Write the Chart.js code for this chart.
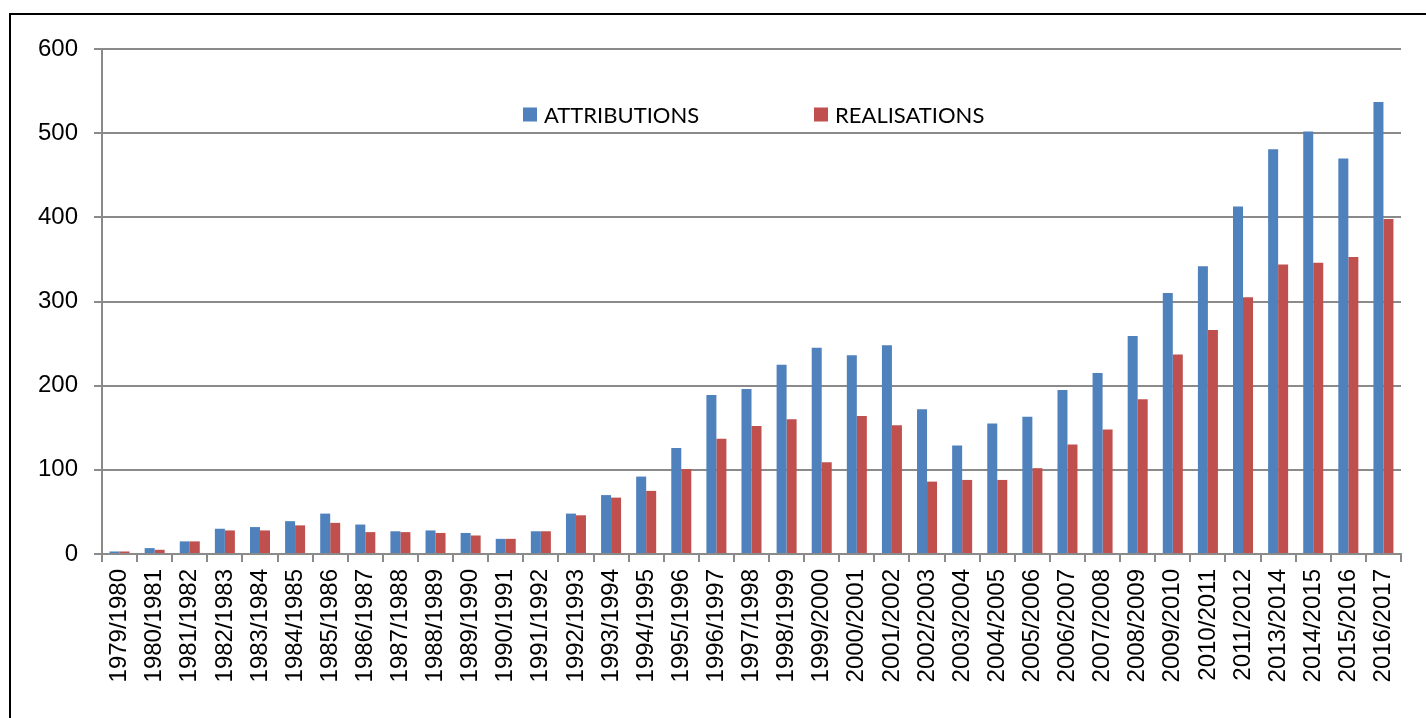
<!DOCTYPE html>
<html>
<head>
<meta charset="utf-8">
<script src="https://cdn.jsdelivr.net/npm/chart.js@4.4.0/dist/chart.umd.min.js"></script>
<style>
  body { margin: 0; background: #fff; overflow: hidden; }
  #wrap { position: relative; width: 1426px; height: 718px; }
  #frame { position: absolute; left: 9px; top: 13px; width: 1500px; height: 800px;
           border-top: 2px solid #000; border-left: 2px solid #000; }
  #chartBox { position: absolute; left: 0; top: 0; width: 1426px; height: 718px; }
</style>
</head>
<body>
<div id="wrap">
  <div id="frame"></div>
  <div id="chartBox"><canvas id="barChart"></canvas></div>
</div>
<script>
// Années universitaires
const labels = [
  "1979/1980", "1980/1981", "1981/1982", "1982/1983", "1983/1984", "1984/1985",
  "1985/1986", "1986/1987", "1987/1988", "1988/1989", "1989/1990", "1990/1991",
  "1991/1992", "1992/1993", "1993/1994", "1994/1995", "1995/1996", "1996/1997",
  "1997/1998", "1998/1999", "1999/2000", "2000/2001", "2001/2002", "2002/2003",
  "2003/2004", "2004/2005", "2005/2006", "2006/2007", "2007/2008", "2008/2009",
  "2009/2010", "2010/2011", "2011/2012", "2013/2014", "2014/2015", "2015/2016",
  "2016/2017"
];

const attributions = [
  3, 7, 15, 30, 32, 39, 48, 35, 27, 28, 25, 18, 27, 48, 70, 92, 126, 189, 196,
  225, 245, 236, 248, 172, 129, 155, 163, 195, 215, 259, 310, 342, 413, 481, 502,
  470, 537
];

const realisations = [
  3, 5, 15, 28, 28, 34, 37, 26, 26, 25, 22, 18, 27, 46, 67, 75, 101, 137, 152,
  160, 109, 164, 153, 86, 88, 88, 102, 130, 148, 184, 237, 266, 305, 344, 346,
  353, 398
];

const yTicks = [0, 100, 200, 300, 400, 500, 600];

const gridColor = "#8a8a8a";
const tickFont = { family: "'Liberation Sans', Arial, sans-serif", size: 24 };

// Légende dessinée à l'intérieur de la zone du graphique
const innerLegend = {
  id: "innerLegend",
  afterDraw(chart) {
    const { ctx, chartArea } = chart;
    const offsets = [421, 712]; // décalage depuis le bord gauche de la zone
    const yMid = 114.5;
    ctx.save();
    ctx.font = "22px Lato, 'Liberation Sans', sans-serif";
    ctx.textBaseline = "middle";
    ctx.textAlign = "left";
    chart.data.datasets.forEach((ds, i) => {
      const x = chartArea.left + offsets[i];
      ctx.fillStyle = ds.backgroundColor;
      ctx.fillRect(x, yMid - 7, 14, 14);
      ctx.fillStyle = "#000";
      ctx.fillText(ds.label, x + 21, yMid + 1);
    });
    ctx.restore();
  },
};

const ctx = document.getElementById("barChart").getContext("2d");
const barChart = new Chart(ctx, {
  type: "bar",
  data: {
    labels: labels,
    datasets: [
      {
        label: "ATTRIBUTIONS",
        data: attributions,
        backgroundColor: "#4f81bd",
        borderWidth: 0,
        categoryPercentage: 0.57,
        barPercentage: 1.0,
      },
      {
        label: "REALISATIONS",
        data: realisations,
        backgroundColor: "#c0504d",
        borderWidth: 0,
        categoryPercentage: 0.57,
        barPercentage: 1.0,
      },
    ],
  },
  options: {
    responsive: true,
    maintainAspectRatio: false,
    animation: false,
    layout: { padding: { top: 49, right: 25, bottom: 0, left: 0 } },
    plugins: {
      legend: { display: false },
      tooltip: { enabled: false },
    },
    scales: {
      x: {
        grid: {
          display: true,
          drawOnChartArea: false,
          drawTicks: true,
          tickLength: 8,
          color: gridColor,
          lineWidth: 2,
          offset: true,
        },
        border: { color: gridColor, width: 2 },
        ticks: {
          autoSkip: false,
          minRotation: 90,
          maxRotation: 90,
          padding: 7,
          color: "#000",
          font: tickFont,
        },
        afterFit: (scale) => { scale.height = 164; },
      },
      y: {
        min: 0,
        max: 600,
        afterBuildTicks: (scale) => {
          scale.ticks = yTicks.map((v) => ({ value: v }));
        },
        grid: {
          color: gridColor,
          lineWidth: 2,
          tickLength: 8,
        },
        border: { color: gridColor, width: 2 },
        ticks: {
          padding: 16,
          color: "#000",
          font: tickFont,
        },
        afterFit: (scale) => { scale.width = 102; },
      },
    },
  },
  plugins: [innerLegend],
});
</script>
</body>
</html>
